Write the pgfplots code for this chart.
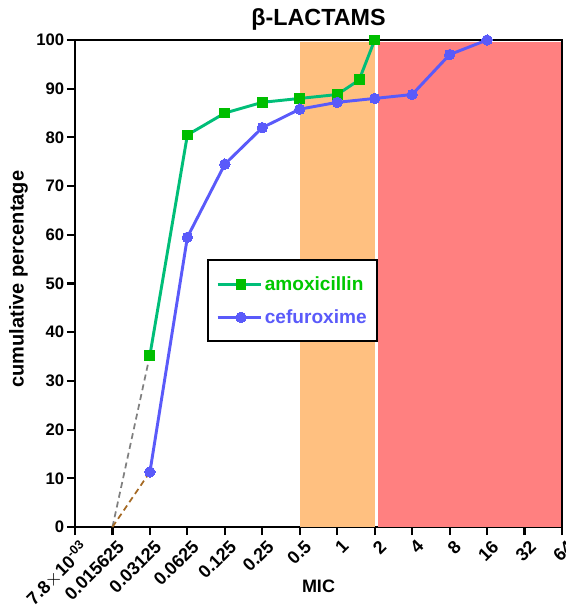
\documentclass[border=0pt]{standalone}
\usepackage{pgfplots}
\pgfplotsset{compat=1.18}
\usepackage{fontspec}
\setmainfont{Liberation Sans}
\definecolor{amoxline}{RGB}{0,190,120}
\definecolor{amoxmark}{RGB}{0,190,0}
\definecolor{amoxtext}{RGB}{0,200,0}
\definecolor{cefu}{RGB}{90,90,250}
\definecolor{orangefill}{RGB}{255,192,128}
\definecolor{redfill}{RGB}{255,128,128}
\definecolor{dashgrey}{RGB}{128,128,128}
\definecolor{dashbrown}{RGB}{165,105,35}
\begin{document}
\begin{tikzpicture}
\begin{axis}[
  scale only axis,
  width=365.25pt, height=365.25pt,
  xmin=0, xmax=13, ymin=0, ymax=100,
  clip=false,
  axis line style={line width=1.6pt},
  tick style={line width=1.6pt, black},
  major tick length=6pt,
  tick align=outside,
  tick pos=left,
  xtick={0,...,13},
  xticklabels={7.8$\times$10\textsuperscript{-03},0.015625,0.03125,0.0625,0.125,0.25,0.5,1,2,4,8,16,32,64},
  ytick={0,10,...,100},
  /pgf/number format/assume math mode=true,
  yticklabel style={font=\bfseries\fontsize{12.5}{14}\selectfont, inner sep=2pt},
  xticklabel style={font=\bfseries\fontsize{13.5}{16}\selectfont, rotate=45, anchor=north east, inner sep=1pt, xshift=1pt, yshift=-3pt},
  xlabel={\bfseries\fontsize{13.5}{15}\selectfont MIC},
  xlabel style={at={(axis description cs:0.5,-0.121)}, anchor=center},
  ylabel={\bfseries\fontsize{15}{17}\selectfont cumulative percentage},
  ylabel style={at={(axis description cs:-0.116,0.509)}, anchor=center},
  legend style={at={(axis description cs:0.271,0.550)}, anchor=north west,
    draw=black, line width=1.6pt, font=\bfseries\fontsize{14.3}{16}\selectfont,
    row sep=9pt, inner xsep=6pt, inner ysep=10pt},
  legend cell align=left,
  legend image code/.code={
    \path (-0.1cm,0cm) -- (1.04cm,0cm);
    \draw[mark repeat=2, mark phase=2] plot coordinates {(0cm,0cm) (0.52cm,0cm) (1.04cm,0cm)};
  },
]
% susceptibility bands
\addplot[fill=orangefill, draw=none, forget plot] coordinates {(6,99.6) (8.01,99.6)} \closedcycle;
\addplot[fill=redfill, draw=none, forget plot] coordinates {(8.09,99.6) (12.96,99.6)} \closedcycle;
% extrapolation to zero
\addplot[dashgrey, line width=1.3pt, dash pattern=on 4.5pt off 3pt, forget plot] coordinates {(1,0) (2,35.3)};
\addplot[dashbrown, line width=1.3pt, dash pattern=on 4.5pt off 3pt, forget plot] coordinates {(1,0) (2,11.3)};
\addplot[amoxline, line width=2.2pt, mark=square*, mark size=3.7pt,
  mark options={fill=amoxmark, draw=amoxmark, line width=0pt}] coordinates {
  (2,35.3) (3,80.5) (4,85.0) (5,87.2) (6,88.0) (7,88.8) (7.585,91.8) (8,100)
};
\addlegendentry{\textcolor{amoxtext}{amoxicillin}}
\addplot[cefu, line width=2.2pt, mark=*, mark size=3.9pt,
  mark options={fill=cefu, draw=cefu, line width=0pt}] coordinates {
  (2,11.3) (3,59.5) (4,74.5) (5,82.0) (6,85.8) (7,87.2) (8,88.0) (9,88.8) (10,97.0) (11,100)
};
\addlegendentry{\textcolor{cefu}{cefuroxime}}
\node[font=\bfseries\fontsize{17.5}{20}\selectfont] at (axis description cs:0.5,1.042) {β-LACTAMS};
\end{axis}
\pgfresetboundingbox
\path[use as bounding box] (-56.25pt,-60pt) rectangle (368.25pt,395.25pt);
\end{tikzpicture}
\end{document}
